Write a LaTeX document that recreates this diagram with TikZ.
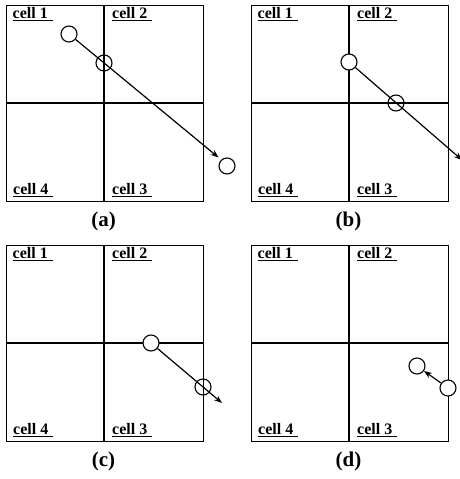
\documentclass[tikz,border=0pt]{standalone}
\usepackage{fontspec}
\setmainfont{Liberation Serif}
\usetikzlibrary{arrows.meta}
\tikzset{
  frame/.style={line width=1pt},
  divider/.style={line width=1.6pt},
  celllabel/.style={font=\fontsize{16}{18}\selectfont\bfseries, anchor=base west, inner sep=0pt},
  uline/.style={line width=0.9pt},
  panellabel/.style={font=\fontsize{21}{25}\selectfont\bfseries, anchor=base, inner sep=0pt},
  particle/.style={circle, draw, line width=1.1pt, minimum size=16pt, inner sep=0pt},
  startp/.style={particle, fill=white},
  passp/.style={particle},
  traj/.style={line width=1.2pt, -{Stealth[length=8pt,width=6pt]}},
}
\begin{document}
\begin{tikzpicture}[x=1pt,y=-1pt]
\useasboundingbox (0,0) rectangle (460,479);
\foreach \p/\px/\py in {a/6/5, b/251/5, c/6/245, d/251/245} {
  \begin{scope}[shift={(\px,\py)}]
    \draw[frame] (0,0) rectangle (197,196);
    \draw[divider] (98,0) -- (98,196);
    \draw[divider] (0,98) -- (197,98);
    \node[celllabel] (\p-l1) at (6.5,13.3) {cell 1};
    \node[celllabel] (\p-l2) at (106,13.3) {cell 2};
    \node[celllabel] (\p-l4) at (7,189.5) {cell 4};
    \node[celllabel] (\p-l3) at (106,189.5) {cell 3};
    \foreach \k in {1,2,3,4} {
      \draw[uline] ([yshift=-2.2pt]\p-l\k.base west) -- ++(40.3,0);
    }
    \node[panellabel] (\p-lab) at (97.5,221) {(\p)};
  \end{scope}
}
% (a)
\node[startp] (a1) at (69,34) {};
\node[passp]  (a2) at (104,63) {};
\node[startp] (a3) at (227,166) {};
\coordinate (aend) at (218.5,157.5);
\draw[traj] (a1) -- (aend);
% (b)
\node[startp] (b1) at (349,62) {};
\node[passp]  (b2) at (396,103) {};
\coordinate (bend) at (462,160);
\draw[traj] (b1) -- (bend);
% (c)
\node[startp] (c1) at (151,343) {};
\node[passp]  (c2) at (203,387) {};
\coordinate (cend) at (222,403);
\draw[traj] (c1) -- (cend);
% (d)
\node[startp] (d1) at (417,366) {};
\node[startp] (d2) at (448,388) {};
\draw[traj] (d2) -- (d1);
\end{tikzpicture}
\end{document}
